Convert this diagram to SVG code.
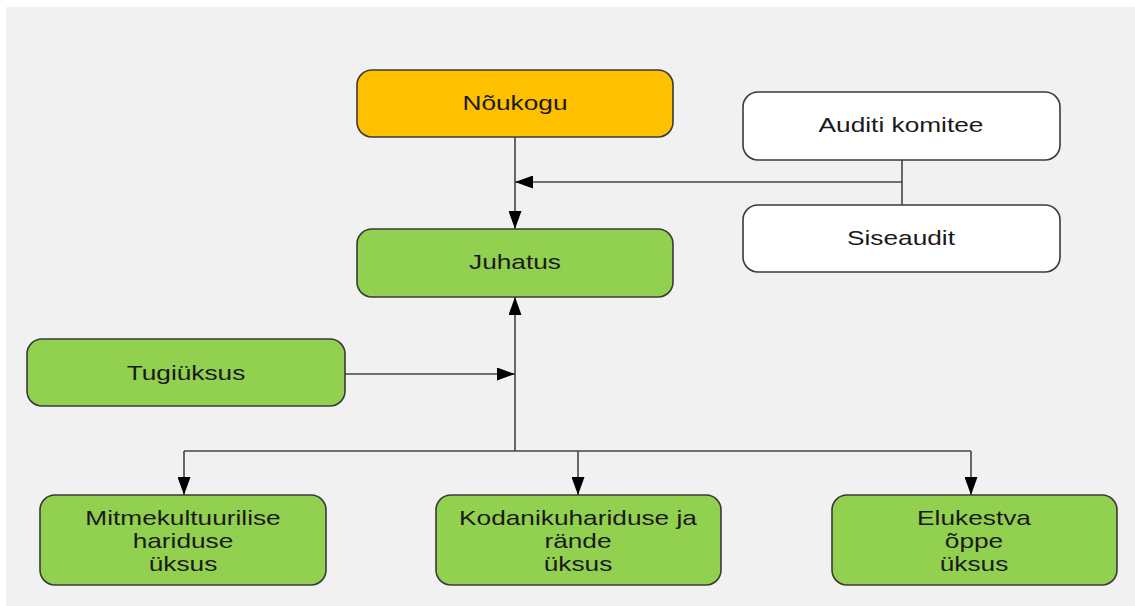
<svg xmlns="http://www.w3.org/2000/svg" width="1135" height="606" viewBox="0 0 1135 606">
  <defs>
    <style>
      .box { stroke: #3a3a3a; stroke-width: 1.6; }
      .green { fill: #92d050; }
      .yellow { fill: #ffc000; }
      .white { fill: #ffffff; }
      .lbl { font-family: "Liberation Sans", Arial, sans-serif; font-size: 21px; fill: #1a1a1a; text-anchor: middle; }
      .conn { stroke: #444444; stroke-width: 1.6; fill: none; }
    </style>
    <marker id="arr" markerUnits="userSpaceOnUse" markerWidth="18" markerHeight="13" refX="18" refY="6.5" orient="auto">
      <path d="M0,0 L18,6.5 L0,13 z" fill="#000000"/>
    </marker>
  </defs>
  <rect x="0" y="0" width="1135" height="606" fill="#ffffff"/>
  <rect x="6" y="7" width="1129" height="599" fill="#f1f1f1"/>

  <g id="connectors">
    <line class="conn" x1="515" y1="137" x2="515" y2="229" marker-end="url(#arr)"/>
    <line class="conn" x1="902" y1="160" x2="902" y2="205"/>
    <line class="conn" x1="902" y1="182" x2="515" y2="182" marker-end="url(#arr)"/>
    <line class="conn" x1="515" y1="451" x2="515" y2="297" marker-end="url(#arr)"/>
    <line class="conn" x1="345" y1="374" x2="515" y2="374" marker-end="url(#arr)"/>
    <polyline class="conn" points="184,451 971,451"/>
    <line class="conn" x1="184" y1="451" x2="184" y2="495" marker-end="url(#arr)"/>
    <line class="conn" x1="578" y1="451" x2="578" y2="495" marker-end="url(#arr)"/>
    <line class="conn" x1="971" y1="451" x2="971" y2="495" marker-end="url(#arr)"/>
  </g>

  <g id="noukogu">
    <rect class="box yellow" x="357" y="70" width="316" height="67" rx="15"/>
    <text class="lbl" transform="translate(515,110) scale(1.25,1)">Nõukogu</text>
  </g>
  <g id="juhatus">
    <rect class="box green" x="357" y="229" width="316" height="68" rx="15"/>
    <text class="lbl" transform="translate(515,269) scale(1.25,1)">Juhatus</text>
  </g>
  <g id="auditi-komitee">
    <rect class="box white" x="743" y="92" width="317" height="68" rx="15"/>
    <text class="lbl" transform="translate(901,132) scale(1.25,1)">Auditi komitee</text>
  </g>
  <g id="siseaudit">
    <rect class="box white" x="743" y="205" width="317" height="67" rx="15"/>
    <text class="lbl" transform="translate(901,245) scale(1.25,1)">Siseaudit</text>
  </g>
  <g id="tugiuksus">
    <rect class="box green" x="27" y="339" width="318" height="67" rx="15"/>
    <text class="lbl" transform="translate(186,380) scale(1.25,1)">Tugiüksus</text>
  </g>
  <g id="mitmekultuurilise">
    <rect class="box green" x="40" y="495" width="286" height="90" rx="15"/>
    <text class="lbl" transform="translate(183,525) scale(1.25,1)">Mitmekultuurilise</text>
    <text class="lbl" transform="translate(183,548) scale(1.25,1)">hariduse</text>
    <text class="lbl" transform="translate(183,571) scale(1.25,1)">üksus</text>
  </g>
  <g id="kodanikuhariduse">
    <rect class="box green" x="436" y="495" width="285" height="90" rx="15"/>
    <text class="lbl" transform="translate(578,525) scale(1.25,1)">Kodanikuhariduse ja</text>
    <text class="lbl" transform="translate(578,548) scale(1.25,1)">rände</text>
    <text class="lbl" transform="translate(578,571) scale(1.25,1)">üksus</text>
  </g>
  <g id="elukestva">
    <rect class="box green" x="832" y="495" width="285" height="90" rx="15"/>
    <text class="lbl" transform="translate(974,525) scale(1.25,1)">Elukestva</text>
    <text class="lbl" transform="translate(974,548) scale(1.25,1)">õppe</text>
    <text class="lbl" transform="translate(974,571) scale(1.25,1)">üksus</text>
  </g>
</svg>
